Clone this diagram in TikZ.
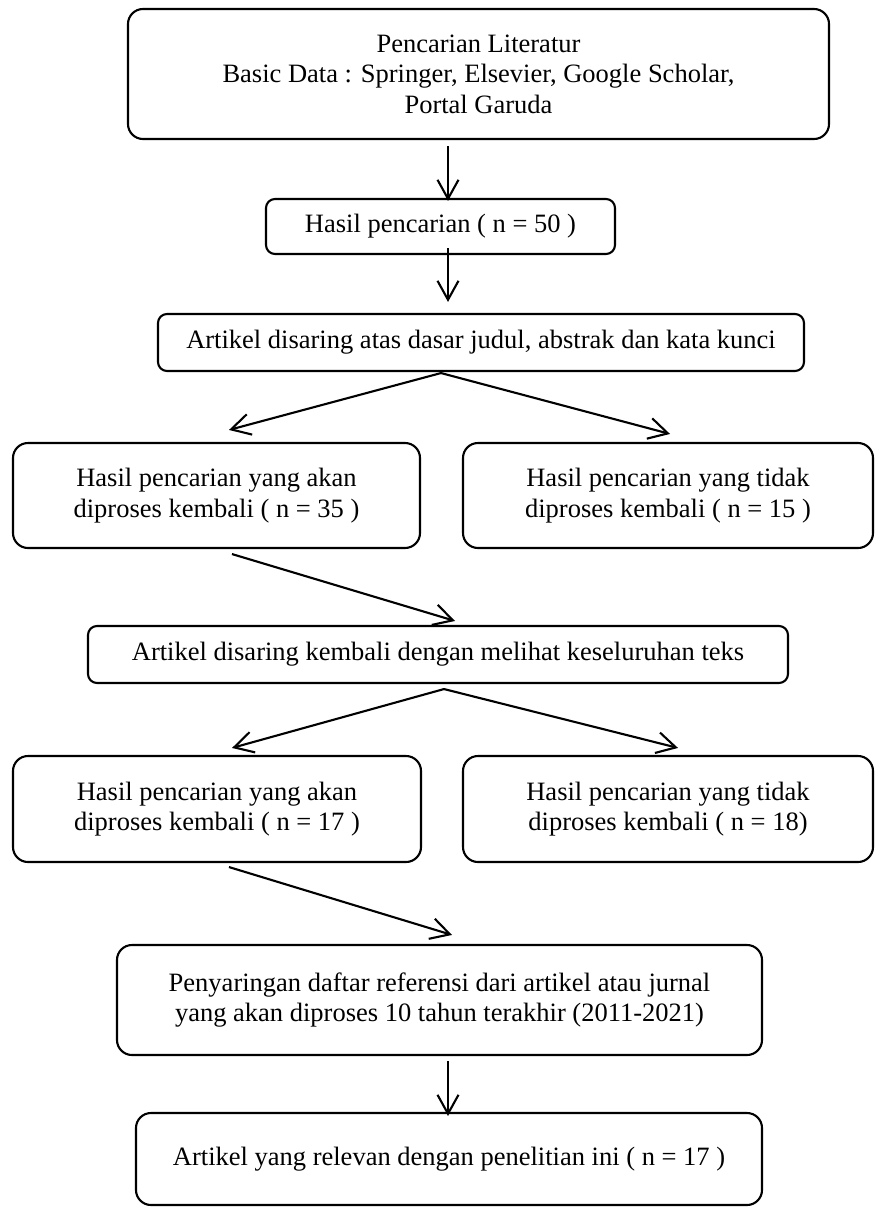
\documentclass[tikz,border=0pt]{standalone}
\usepackage{fontspec}
\setmainfont{Liberation Serif}
\usetikzlibrary{arrows.meta}
\begin{document}
\begin{tikzpicture}[x=1pt, y=-1pt, line width=2.1pt,
      font=\fontsize{26.5}{30.5}\selectfont,
      >={Straight Barb[length=19pt, width=21pt, line width=2.1pt]},
      box/.style={draw, rounded corners=15pt, align=center, inner sep=0pt},
      smallbox/.style={box, rounded corners=9pt},
      arr/.style={->, line width=2.1pt}]
    \useasboundingbox (0,0) rectangle (875,1207);
    \node[box, minimum width=701pt, minimum height=130pt] (lit) at (478.5,74) {Pencarian Literatur\\Basic Data : Springer, Elsevier, Google Scholar,\\Portal Garuda};
    \node[smallbox, minimum width=349pt, minimum height=55pt] (hasil) at (440.5,226.5) {Hasil pencarian ( n = 50 )};
    \node[smallbox, minimum width=646pt, minimum height=57pt] (saring) at (481,342.5) {Artikel disaring atas dasar judul, abstrak dan kata kunci};
    \node[box, minimum width=407pt, minimum height=105pt] (lanjut1) at (216.5,495.5) {Hasil pencarian yang akan\\diproses kembali ( n = 35 )};
    \node[box, minimum width=410pt, minimum height=105pt] (tolak1) at (668,495.5) {Hasil pencarian yang tidak\\diproses kembali ( n = 15 )};
    \node[smallbox, minimum width=700pt, minimum height=57pt] (saring2) at (438,654.5) {Artikel disaring kembali dengan melihat keseluruhan teks};
    \node[box, minimum width=408pt, minimum height=106pt] (lanjut2) at (217,809) {Hasil pencarian yang akan\\diproses kembali ( n = 17 )};
    \node[box, minimum width=410pt, minimum height=106pt] (tolak2) at (668,809) {Hasil pencarian yang tidak\\diproses kembali ( n = 18)};
    \node[box, minimum width=645pt, minimum height=110pt] (ref) at (439.5,1000) {Penyaringan daftar referensi dari artikel atau jurnal\\yang akan diproses 10 tahun terakhir (2011-2021)};
    \node[box, minimum width=626pt, minimum height=92pt] (akhir) at (449,1159) {Artikel yang relevan dengan penelitian ini ( n = 17 )};
    % alur utama
    \draw[arr] ([xshift=-30.5pt,yshift=-6pt]lit.south) -- ([xshift=7.5pt,yshift=-3pt]hasil.north);
    \draw[arr] ([xshift=7.5pt,yshift=7pt]hasil.south) -- ([xshift=-33pt,yshift=11pt]saring.north);
    \draw[arr] ([xshift=-40pt,yshift=-1pt]saring.south) -- ([xshift=12.5pt,yshift=12pt]lanjut1.north);
    \draw[arr] ([xshift=-40pt,yshift=-1pt]saring.south) -- ([xshift=2pt,yshift=8pt]tolak1.north);
    \draw[arr] ([xshift=15.5pt,yshift=-5pt]lanjut1.south) -- ([xshift=17pt,yshift=4pt]saring2.north);
    \draw[arr] ([xshift=6pt,yshift=-5pt]saring2.south) -- ([xshift=15pt,yshift=7pt]lanjut2.north);
    \draw[arr] ([xshift=6pt,yshift=-5pt]saring2.south) -- ([xshift=10pt,yshift=7pt]tolak2.north);
    \draw[arr] ([xshift=12pt,yshift=-4pt]lanjut2.south) -- ([xshift=12.5pt,yshift=9pt]ref.north);
    \draw[arr] ([xshift=8.5pt,yshift=-5pt]ref.south) -- ([xshift=-1pt,yshift=-4pt]akhir.north);
  \end{tikzpicture}
\end{document}
